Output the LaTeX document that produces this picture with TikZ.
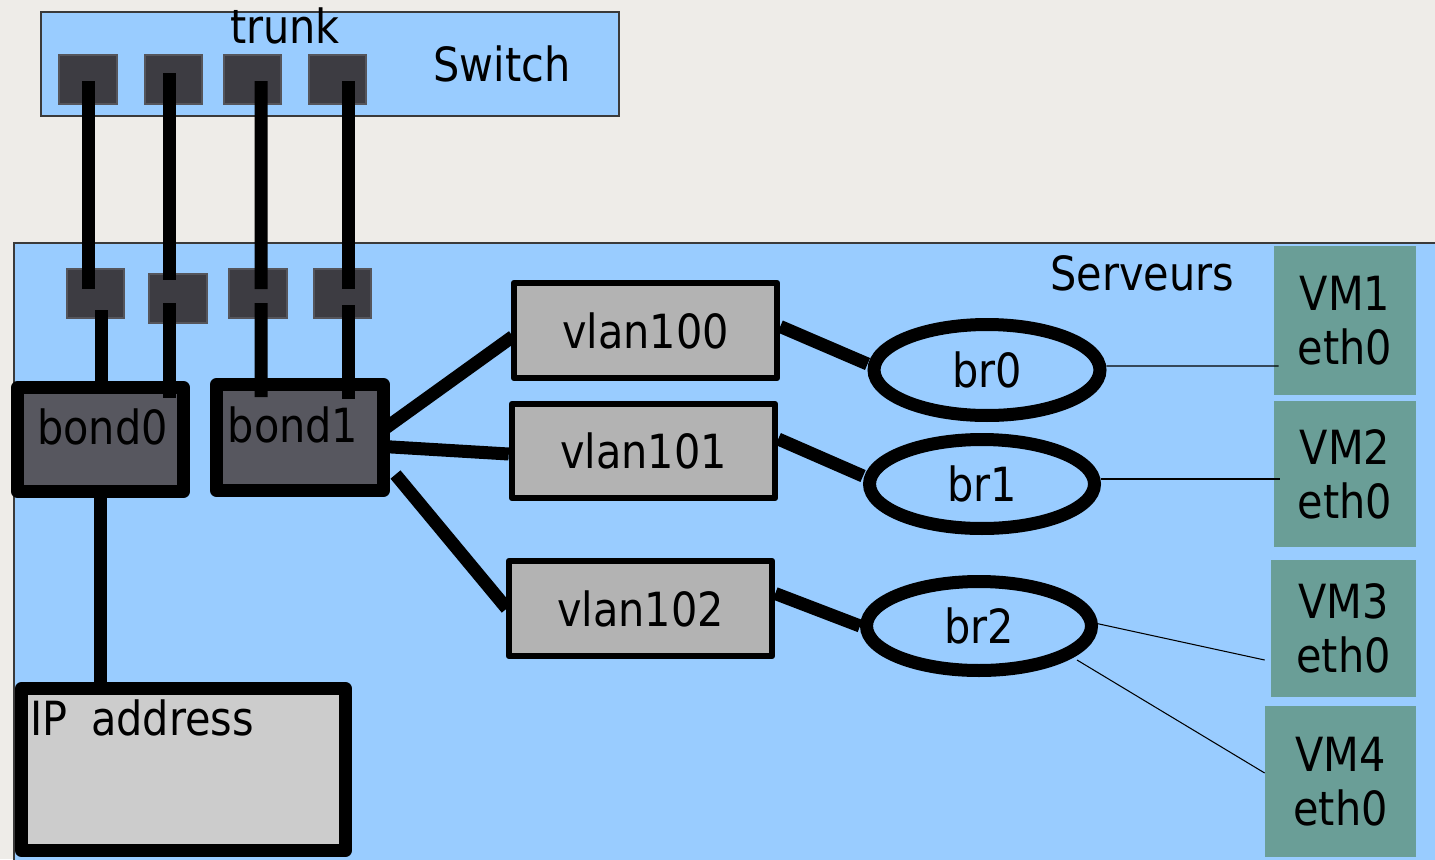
\documentclass[tikz,border=0pt]{standalone}
\usepackage{fontspec}
\setmainfont{DejaVu Sans}[FakeStretch=0.88]
\usetikzlibrary{calc,fit,shapes.geometric}

\definecolor{bgpaper}{HTML}{EEECE8}
\definecolor{zoneblue}{HTML}{99CCFF}
\definecolor{zoneedge}{HTML}{3A3A3A}
\definecolor{portgray}{HTML}{3D3C42}
\definecolor{portedge}{HTML}{55555B}
\definecolor{bondgray}{HTML}{57575F}
\definecolor{vlangray}{HTML}{B3B3B3}
\definecolor{ipgray}{HTML}{CCCCCC}
\definecolor{vmteal}{HTML}{6A9E97}

\begin{document}
\begin{tikzpicture}[x=0.02cm, y=-0.02cm,
  lbl/.style={font=\fontsize{26.8}{30.6}\selectfont, text=black, inner sep=0pt},
  boxfit/.style={rectangle, inner sep=0pt, outer sep=0pt},
  zone/.style={boxfit, fill=zoneblue, draw=zoneedge, line width=0.6pt},
  port/.style={boxfit, fill=portgray, draw=portedge, line width=0.6pt},
  bondbox/.style={boxfit, fill=bondgray, draw=black, line width=7.4pt, line join=round},
  ipbox/.style={boxfit, fill=ipgray, draw=black, line width=7.4pt, line join=round},
  vlanbox/.style={rectangle, lbl, fill=vlangray, draw=black, line width=3.7pt,
    line join=round, minimum width=5.26cm},
  bridge/.style={ellipse, lbl, draw=black, line width=7.4pt},
  vmbox/.style={rectangle, lbl, fill=vmteal, align=center},
  cable/.style={draw=black, line width=7.4pt, line cap=butt},
  link/.style={draw=black, line width=0.6pt},
]
\useasboundingbox (0,0) rectangle (1435,859);
\fill[bgpaper] (0,0) rectangle (1435,859);

% server zone and switch
\node[zone, fit={(14,243) (1445,870)}] (serv) {};
\node[zone, fit={(41,12) (619,116)}] (switch) {};
\node[lbl, anchor=base] (trunklbl) at ($(switch.north west)+(244,31)$) {trunk};
\node[lbl, anchor=base west] (switchlbl) at ($(switch.north west)+(392,69)$) {Switch};
\node[lbl, anchor=base west] (servlbl) at ($(serv.north west)+(1036,47)$) {Serveurs};

% switch ports
\node[port, fit={(59,55) (117,104)}] (sp1) {};
\node[port, fit={(145,55) (202,104)}] (sp2) {};
\node[port, fit={(224,55) (281,104)}] (sp3) {};
\node[port, fit={(309,55) (366,104)}] (sp4) {};

% server ports
\node[port, fit={(67,269) (124,318)}] (hp1) {};
\node[port, fit={(149,274) (207,323)}] (hp2) {};
\node[port, fit={(229,269) (287,318)}] (hp3) {};
\node[port, fit={(314,269) (371,318)}] (hp4) {};

% bonds and host address
\node[bondbox, fit={(17.5,387.5) (183.5,491.5)}] (bond0) {};
\node[bondbox, fit={(216.5,384.5) (383.5,490.5)}] (bond1) {};
\node[lbl, anchor=base] (bond0lbl) at ($(bond0.north)+(2,56.5)$) {bond0};
\node[lbl, anchor=base] (bond1lbl) at ($(bond1.north)+(-7,57.5)$) {bond1};
\node[ipbox, fit={(21.5,688.5) (345.5,850.5)}] (ip) {};
\node[lbl, anchor=base west] (iplbl) at ($(ip.north west)+(8.5,46.5)$) {IP\hspace{6pt} address};

% vlans
\node[vlanbox, minimum height=1.9cm] (vlan100) at (645.5,330.5) {vlan100};
\node[vlanbox, minimum height=1.88cm] (vlan101) at (643.5,451) {vlan101};
\node[vlanbox, minimum height=1.9cm] (vlan102) at (640.5,608.5) {vlan102};

% bridges
\node[bridge, minimum width=4.52cm, minimum height=1.82cm] (br0) at (987,370) {br0};
\node[bridge, minimum width=4.5cm, minimum height=1.78cm] (br1) at (982,484) {br1};
\node[bridge, minimum width=4.5cm, minimum height=1.78cm] (br2) at (979,626) {br2};

% virtual machines
\node[vmbox, minimum width=2.84cm, minimum height=2.98cm] (vm1) at (1345,320.5) {VM1\\eth0};
\node[vmbox, minimum width=2.84cm, minimum height=2.92cm] (vm2) at (1345,474) {VM2\\eth0};
\node[vmbox, minimum width=2.9cm, minimum height=2.74cm] (vm3) at (1343.5,628.5) {VM3\\eth0};
\node[vmbox, minimum width=3.02cm, minimum height=3.02cm] (vm4) at (1340.5,781.5) {VM4\\eth0};

% trunk cables: switch -> server ports
\draw[cable] ($(sp1.center)+(0,1.5)$) -- ($(hp1.center)+(-7.5,-4.5)$);
\draw[cable] ($(sp2.center)+(-4.5,-6.5)$) -- ($(hp2.center)+(-9,-18.5)$);
\draw[cable] ($(sp3.center)+(8.5,1.5)$) -- ($(hp3.center)+(3,-4.5)$);
\draw[cable] ($(sp4.center)+(10.5,1.5)$) -- ($(hp4.center)+(5.5,-4.5)$);

% server ports -> bonds
\draw[cable] ($(hp1.center)+(5.5,16.5)$) -- ($(bond0.north west)+(83.5,-5.5)$);
\draw[cable] ($(hp2.center)+(-9,4.5)$) -- ($(bond0.north east)+(-14.5,10.5)$);
\draw[cable] ($(hp3.center)+(3,9.5)$) -- ($(bond1.north west)+(44.5,12.5)$);
\draw[cable] ($(hp4.center)+(5.5,11.5)$) -- ($(bond1.north east)+(-35.5,14.5)$);

% bond0 carries the host address
\draw[cable] (bond0.south) -- (bond0.south |- ip.north);

% bond1 -> vlans
\draw[cable] ($(bond1.east)+(0,-8)$) -- ($(vlan100.west)+(2,6)$);
\draw[cable] ($(bond1.east)+(0,9)$) -- ($(vlan101.west)+(0,3)$);
\draw[cable] ($(bond1.east)+(12,37)$) -- ($(vlan102.west)+(1,0)$);

% vlans -> bridges
\draw[cable] ($(vlan100.east)+(0,-4)$) -- ($(br0.west)+(0,-6)$);
\draw[cable] ($(vlan101.east)+(0,-12)$) -- ($(br1.west)+(0,-8)$);
\draw[cable] ($(vlan102.east)+(0,-15)$) -- (br2.west);

% bridges -> guest interfaces
\draw[link] ($(br0.east)+(0,-4)$) -- ($(vm1.west)+(5,45.5)$);
\draw[link] ($(br1.east)+(0,-5)$) -- ($(vm2.west)+(6,5)$);
\draw[link] ($(br2.east)+(-8,-4)$) -- ($(vm3.west)+(-6,31.5)$);
\draw[link] ($(br2.center)+(98,34)$) -- ($(vm4.west)+(0,-8.5)$);
\end{tikzpicture}
\end{document}
